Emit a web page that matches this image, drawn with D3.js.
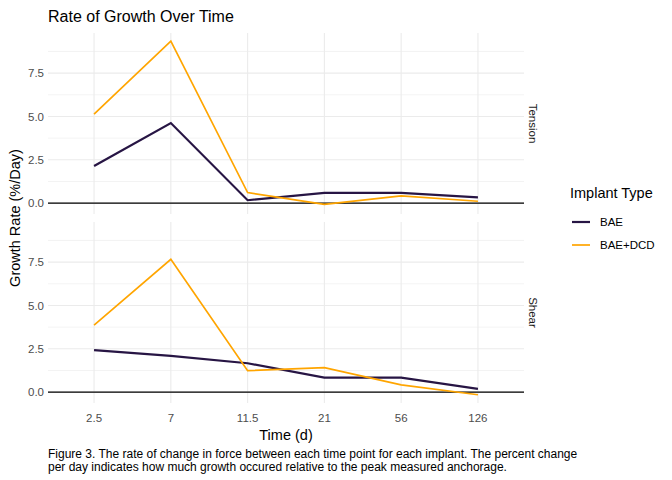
<!DOCTYPE html>
<html>
<head>
<meta charset="utf-8">
<script src="https://cdn.jsdelivr.net/npm/d3@7"></script>
<style>
  body { margin: 0; background: #fff; }
  text { font-family: "Liberation Sans", Arial, sans-serif; }
</style>
</head>
<body>
<div id="chart"></div>
<script>
// data
const times = ["2.5", "7", "11.5", "21", "56", "126"]
const panels = ["Tension", "Shear"]
const groups = ["BAE", "BAE+DCD"]
const groupColors = ["#271544", "#FFA500"]
const tensionBAE = [2.14, 4.62, 0.17, 0.59, 0.59, 0.34]
const tensionDCD = [5.14, 9.34, 0.61, -0.07, 0.42, 0.11]
const shearBAE = [2.43, 2.09, 1.67, 0.84, 0.84, 0.19]
const shearDCD = [3.87, 7.66, 1.24, 1.41, 0.42, -0.15]
const yTicks = [0, 2.5, 5, 7.5]

const series = {
    Tension: { "BAE": tensionBAE, "BAE+DCD": tensionDCD },
    Shear: { "BAE": shearBAE, "BAE+DCD": shearDCD }
}

const W = 672, H = 480
const MARGIN = { LEFT: 48, RIGHT: 148, TOP: 33 }
const panelH = 181, panelGap = 8

const svg = d3.select("#chart").append("svg")
    .attr("width", W)
    .attr("height", H)

const x = d3.scalePoint()
    .domain(times)
    .range([MARGIN.LEFT, W - MARGIN.RIGHT])
    .padding(0.6)

// shared (fixed) y scale, ggplot-style 5% expansion
const allVals = [].concat(tensionBAE, tensionDCD, shearBAE, shearDCD)
const yMin = d3.min(allVals), yMax = d3.max(allVals)
const pad = (yMax - yMin) * 0.05
const y = d3.scaleLinear()
    .domain([yMin - pad, yMax + pad])
    .range([panelH, 0])

const line = d3.line()
    .x((d, i) => x(times[i]))
    .y(d => y(d))

panels.forEach((p, pi) => {
    const top = MARGIN.TOP + pi * (panelH + panelGap)
    const g = svg.append("g").attr("transform", `translate(0, ${top})`)

    // minor grid
    const minor = d3.range(-1.25, yMax + pad, 2.5).filter(v => y(v) >= 0 && y(v) <= panelH)
    g.selectAll(".minor").data(minor).enter().append("line")
        .attr("x1", MARGIN.LEFT).attr("x2", W - MARGIN.RIGHT)
        .attr("y1", d => y(d)).attr("y2", d => y(d))
        .attr("stroke", "#ebebeb").attr("stroke-width", 0.6)

    // major grid
    g.selectAll(".major").data(yTicks).enter().append("line")
        .attr("x1", MARGIN.LEFT).attr("x2", W - MARGIN.RIGHT)
        .attr("y1", d => y(d)).attr("y2", d => y(d))
        .attr("stroke", "#ebebeb").attr("stroke-width", 1.1)
    g.selectAll(".vgrid").data(times).enter().append("line")
        .attr("x1", d => x(d)).attr("x2", d => x(d))
        .attr("y1", 0).attr("y2", panelH)
        .attr("stroke", "#ebebeb").attr("stroke-width", 1.1)

    // zero line
    g.append("line")
        .attr("x1", MARGIN.LEFT).attr("x2", W - MARGIN.RIGHT)
        .attr("y1", y(0)).attr("y2", y(0))
        .attr("stroke", "#000").attr("stroke-width", 1.1)

    // y tick labels
    g.selectAll(".ytick").data(yTicks).enter().append("text")
        .attr("x", MARGIN.LEFT - 4)
        .attr("y", d => y(d))
        .attr("dy", "0.35em")
        .attr("text-anchor", "end")
        .attr("font-size", "11.5px")
        .attr("fill", "#4d4d4d")
        .text(d => d3.format(".1f")(d))

    groups.forEach((grp, gi) => {
        g.append("path")
            .datum(series[p][grp])
            .attr("d", line)
            .attr("fill", "none")
            .attr("stroke", groupColors[gi])
            .attr("stroke-width", gi == 0 ? 2.2 : 1.7)
    })

    // strip label
    g.append("text")
        .attr("transform", `translate(${W - MARGIN.RIGHT + 9}, ${panelH / 2}) rotate(90)`)
        .attr("text-anchor", "middle")
        .attr("dy", "0.35em")
        .attr("font-size", "11.5px")
        .attr("fill", "#1a1a1a")
        .text(p)
})

const bottom = MARGIN.TOP + 2 * panelH + panelGap

// x tick labels
svg.selectAll(".xtick").data(times).enter().append("text")
    .attr("x", d => x(d))
    .attr("y", bottom + 19)
    .attr("text-anchor", "middle")
    .attr("font-size", "11.5px")
    .attr("fill", "#4d4d4d")
    .text(d => d)

// title
svg.append("text")
    .attr("x", MARGIN.LEFT)
    .attr("y", 22)
    .attr("font-size", "16px")
    .attr("fill", "#000")
    .text("Rate of Growth Over Time")

// axis titles
svg.append("text")
    .attr("x", (MARGIN.LEFT + W - MARGIN.RIGHT) / 2)
    .attr("y", bottom + 37)
    .attr("text-anchor", "middle")
    .attr("font-size", "14.5px")
    .text("Time (d)")

svg.append("text")
    .attr("transform", `translate(20, ${MARGIN.TOP + panelH + panelGap / 2}) rotate(-90)`)
    .attr("text-anchor", "middle")
    .attr("font-size", "14.5px")
    .text("Growth Rate (%/Day)")

// legend
const leg = svg.append("g").attr("transform", "translate(570, 0)")
leg.append("text")
    .attr("x", 0).attr("y", 198)
    .attr("font-size", "14.5px")
    .text("Implant Type")
groups.forEach((grp, gi) => {
    const ly = 222 + gi * 23
    leg.append("line")
        .attr("x1", 2).attr("x2", 20)
        .attr("y1", ly).attr("y2", ly)
        .attr("stroke", groupColors[gi])
        .attr("stroke-width", gi == 0 ? 2.2 : 1.7)
    leg.append("text")
        .attr("x", 30).attr("y", ly)
        .attr("dy", "0.35em")
        .attr("font-size", "11.5px")
        .attr("fill", "#000")
        .text(grp)
})

// caption
const cap = svg.append("text")
    .attr("x", MARGIN.LEFT)
    .attr("font-size", "12px")
    .attr("fill", "#000")
cap.append("tspan").attr("x", MARGIN.LEFT).attr("y", 458)
    .text("Figure 3. The rate of change in force between each time point for each implant. The percent change")
cap.append("tspan").attr("x", MARGIN.LEFT).attr("y", 471)
    .text("per day indicates how much growth occured relative to the peak measured anchorage.")
</script>
</body>
</html>
